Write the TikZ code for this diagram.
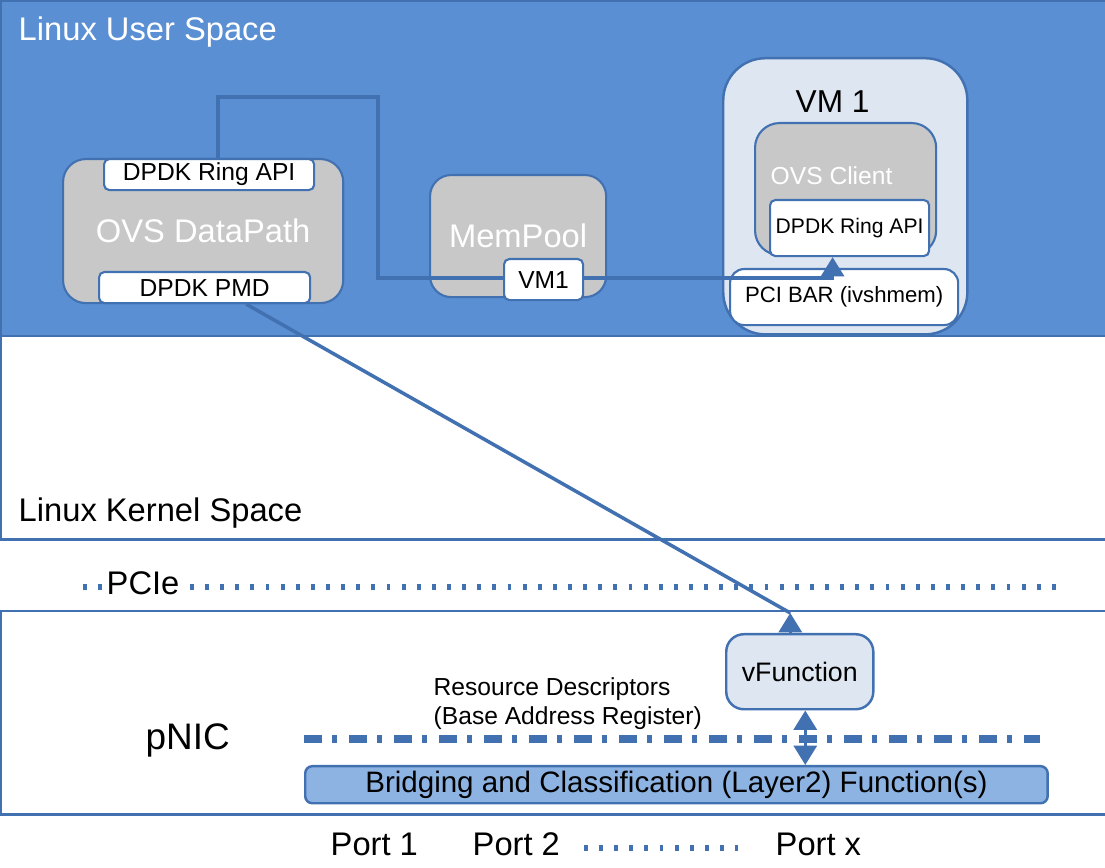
\documentclass[tikz,border=0pt]{standalone}
\usepackage{fontspec}
\setmainfont{Liberation Sans}
\usetikzlibrary{arrows.meta,positioning}

\definecolor{userblue}{RGB}{91,143,211}
\definecolor{edgeblue}{RGB}{66,113,178}
\definecolor{boxgray}{RGB}{200,200,200}
\definecolor{paleblue}{RGB}{221,230,241}
\definecolor{bridgeblue}{RGB}{141,179,226}

\begin{document}
\begin{tikzpicture}[
            x=0.01cm, y=-0.01cm,
            >={Triangle[width=6.5pt,length=5.5pt]},
            region/.style={draw=edgeblue, line width=0.7pt, anchor=north west, inner sep=0pt},
            grey/.style={draw=edgeblue, line width=0.6pt, fill=boxgray, anchor=north west, inner sep=0pt, text=white},
            tag/.style={draw=edgeblue, line width=0.6pt, fill=white, rounded corners=1.5pt, anchor=north west, inner sep=0pt},
            lbl/.style={anchor=base west, inner sep=0pt},
            link/.style={draw=edgeblue, line width=1pt},
            ticks/.style={draw=edgeblue, line width=1.8pt, dash pattern=on 1.1pt off 3.2pt},
            big/.style={font=\fontsize{9.3}{11}\selectfont},
            mid/.style={font=\fontsize{7}{8.5}\selectfont},
            small/.style={font=\fontsize{6}{7}\selectfont}
        ]
        \useasboundingbox (0,0) rectangle (1105,868);

        % spaces
        \node[region, fill=userblue, minimum width=11.05cm, minimum height=3.35cm] (user) at (0,0) {};
        \node[region, fill=white, minimum width=11.05cm, minimum height=2.03cm] (kernel) at (0,335) {};
        \node[region, fill=white, minimum width=11.05cm, minimum height=2.03cm] (nic) at (0,610) {};
        \node[lbl, big, text=white] (userlbl) at (18,41) {Linux User Space};
        \node[lbl, big] (kernellbl) at (18,522) {Linux Kernel Space};
        \node[lbl, big] (pcielbl) at (106,595) {PCIe};
        \node[lbl, font=\fontsize{10.5}{12}\selectfont] (niclbl) at (145,750) {pNIC};

        \draw[ticks] (83,587) -- (104,587);
        \draw[ticks] (190,587) -- (1058,587);

        % OVS side
        \node[grey, big, rounded corners=6.5pt, minimum width=2.8cm, minimum height=1.44cm] (ovs) at (62,158) {OVS DataPath};
        \node[tag, mid, minimum width=2.1cm, minimum height=0.31cm] (ringL) at (103,158) {DPDK Ring API};
        \node[tag, mid, minimum width=2.11cm, minimum height=0.31cm] (pmd) at (98,271) {DPDK PMD};
        \node[grey, big, rounded corners=6pt, minimum width=1.76cm, minimum height=1.22cm] (mempool) at (429,174) {MemPool};

        % VM 1
        \node[region, fill=paleblue, rounded corners=12pt, minimum width=2.44cm, minimum height=2.76cm] (vm) at (722,57) {};
        \node[lbl, font=\fontsize{9}{11}\selectfont] (vmlbl) at (795,113) {VM 1};
        \node[grey, rounded corners=7pt, minimum width=1.81cm, minimum height=1.32cm] (client) at (754,122) {};
        \node[lbl, mid, text=white] (clientlbl) at (770,185) {OVS Client};
        \node[tag, small, minimum width=1.59cm, minimum height=0.56cm] (ringV) at (769,199) {DPDK Ring API};
        \node[tag, font=\fontsize{6.3}{7}\selectfont, rounded corners=4pt, minimum width=2.28cm, minimum height=0.56cm] (pcibar) at (729,268) {\raisebox{-3pt}{PCI BAR (ivshmem)}};

        \coordinate (bendA) at (378,97);
        \coordinate (bendB) at (378,278);
        \draw[link, ->] ([xshift=0.09cm]ringL.north) |- (bendA) -- (bendB) -| ([xshift=-0.17cm]ringV.south);

        \node[tag, mid, minimum width=0.79cm, minimum height=0.41cm] (vmone) at (503,258) {VM1};

        % pNIC
        \node[region, fill=paleblue, rounded corners=5pt, minimum width=1.47cm, minimum height=0.75cm, font=\fontsize{7.6}{9}\selectfont] (vfun) at (725,633) {vFunction};
        \node[anchor=north west, inner sep=0pt, align=left, font=\fontsize{7}{8.1}\selectfont] (resdesc) at (433,677) {Resource Descriptors\\(Base Address Register)};
        \draw[edgeblue, line width=2pt, dash pattern=on 5.1pt off 2.9pt on 1.4pt off 3.4pt] (304,739) -- (1040,739);
        \node[region, fill=bridgeblue, rounded corners=2pt, minimum width=7.42cm, minimum height=0.37cm, font=\fontsize{8.4}{9.5}\selectfont] (bridge) at (304,765) {Bridging and Classification (Layer2) Function(s)};

        \draw[link] ([xshift=0.415cm]pmd.south) -- ([xshift=-0.095cm,yshift=0.2cm]vfun.north);
        \draw[link, ->] ([xshift=-0.095cm]vfun.north) -- ++(0,-20);
        \draw[link, <->] ([xshift=0.055cm]vfun.south) -- ([xshift=0.055cm]vfun.south |- bridge.north);

        % ports
        \node[lbl, big] (porta) at (330,856) {Port 1};
        \node[lbl, big] (portb) at (472,856) {Port 2};
        \node[lbl, big] (portx) at (775,856) {Port x};
        \draw[ticks] (584,848) -- (738,848);
    \end{tikzpicture}
\end{document}
